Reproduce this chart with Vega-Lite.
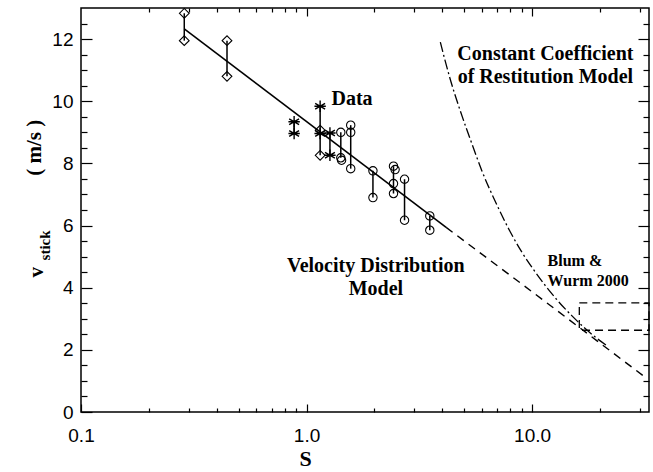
{
  "$schema": "https://vega.github.io/schema/vega-lite/v6.json",
  "width": 568,
  "height": 404,
  "padding": {"left": 81, "top": 8, "right": 4, "bottom": 60},
  "autosize": {"type": "none"},
  "background": "white",
  "config": {
    "view": {"stroke": "black", "strokeWidth": 1.5},
    "axis": {"grid": false, "domain": false, "tickColor": "black", "tickWidth": 1.2, "labelFont": "Liberation Sans", "labelFontSize": 19, "labelColor": "black", "labelFlush": false}
  },
  "datasets": {
    "model": [
      {"S": 0.287, "v": 12.33, "part": "solid"},
      {"S": 4.16, "v": 5.94, "part": "solid"},
      {"S": 4.16, "v": 5.94, "part": "dashed"},
      {"S": 10, "v": 3.87, "part": "dashed"},
      {"S": 32, "v": 1.1, "part": "dashed"}
    ],
    "curve": [
      {"S": 3.92, "v": 11.9}, {"S": 4.3, "v": 10.8}, {"S": 4.8, "v": 9.7},
      {"S": 5.4, "v": 8.65}, {"S": 6.0, "v": 7.75}, {"S": 7.0, "v": 6.65},
      {"S": 8.0, "v": 5.8}, {"S": 9.0, "v": 5.15}, {"S": 10, "v": 4.65},
      {"S": 11.5, "v": 4.05}, {"S": 13, "v": 3.58}, {"S": 15, "v": 3.1},
      {"S": 17, "v": 2.72}, {"S": 19, "v": 2.42}, {"S": 21.3, "v": 2.15}
    ],
    "pairs": [
      {"S": 0.287, "lo": 11.95, "hi": 12.83},
      {"S": 0.444, "lo": 10.8, "hi": 11.95},
      {"S": 0.881, "lo": 8.96, "hi": 9.34},
      {"S": 1.149, "lo": 8.26, "hi": 9.84},
      {"S": 1.27, "lo": 8.26, "hi": 8.98},
      {"S": 1.419, "lo": 8.18, "hi": 9.0},
      {"S": 1.57, "lo": 7.83, "hi": 9.23},
      {"S": 1.97, "lo": 6.9, "hi": 7.76},
      {"S": 2.43, "lo": 7.03, "hi": 7.91},
      {"S": 2.72, "lo": 6.17, "hi": 7.49},
      {"S": 3.52, "lo": 5.85, "hi": 6.31}
    ],
    "points": [
      {"S": 0.287, "v": 12.83, "sym": "diamond"},
      {"S": 0.287, "v": 11.95, "sym": "diamond"},
      {"S": 0.444, "v": 11.95, "sym": "diamond"},
      {"S": 0.444, "v": 10.8, "sym": "diamond"},
      {"S": 1.149, "v": 9.07, "sym": "diamond"},
      {"S": 1.149, "v": 8.26, "sym": "diamond"},
      {"S": 0.881, "v": 9.34, "sym": "star"},
      {"S": 0.881, "v": 8.96, "sym": "star"},
      {"S": 1.149, "v": 9.84, "sym": "star"},
      {"S": 1.149, "v": 8.96, "sym": "star"},
      {"S": 1.27, "v": 8.98, "sym": "star"},
      {"S": 1.27, "v": 8.26, "sym": "star"},
      {"S": 1.419, "v": 9.0, "sym": "circle"},
      {"S": 1.419, "v": 8.18, "sym": "circle"},
      {"S": 1.43, "v": 8.1, "sym": "circle"},
      {"S": 1.57, "v": 9.23, "sym": "circle"},
      {"S": 1.57, "v": 9.0, "sym": "circle"},
      {"S": 1.57, "v": 7.83, "sym": "circle"},
      {"S": 1.97, "v": 7.76, "sym": "circle"},
      {"S": 1.97, "v": 6.9, "sym": "circle"},
      {"S": 2.43, "v": 7.91, "sym": "circle"},
      {"S": 2.47, "v": 7.8, "sym": "circle"},
      {"S": 2.43, "v": 7.35, "sym": "circle"},
      {"S": 2.43, "v": 7.03, "sym": "circle"},
      {"S": 2.72, "v": 7.49, "sym": "circle"},
      {"S": 2.72, "v": 6.17, "sym": "circle"},
      {"S": 3.52, "v": 6.31, "sym": "circle"},
      {"S": 3.52, "v": 5.85, "sym": "circle"}
    ]
  },
  "layer": [
    {
      "data": {"name": "model"},
      "transform": [{"filter": "datum.part === 'solid'"}],
      "mark": {"type": "line", "color": "black", "strokeWidth": 1.6},
      "encoding": {
        "x": {"field": "S", "type": "quantitative",
          "scale": {"type": "log", "domain": [0.1, 33], "nice": false},
          "axis": {"orient": "bottom", "values": [0.1, 1, 10], "format": ".1f", "tickSize": -8, "labelPadding": 22,
            "title": "S", "titleFont": "Liberation Serif", "titleFontWeight": "bold", "titleFontSize": 22, "titleColor": "black",
            "titleX": 224, "titleY": 53, "titleBaseline": "alphabetic", "titleAlign": "center"}},
        "y": {"field": "v", "type": "quantitative",
          "scale": {"domain": [0, 13], "nice": false, "zero": false},
          "axis": {"orient": "left", "values": [0, 2, 4, 6, 8, 10, 12], "tickSize": -11, "labelPadding": 19, "title": null}}
      }
    },
    {
      "data": {"name": "model"},
      "transform": [{"filter": "datum.part === 'dashed'"}],
      "mark": {"type": "line", "color": "black", "strokeWidth": 1.4, "strokeDash": [8, 6]},
      "encoding": {
        "x": {"field": "S", "type": "quantitative",
          "scale": {"type": "log", "domain": [0.1, 33], "nice": false},
          "axis": {"orient": "bottom", "values": [0.2, 0.3, 0.4, 0.5, 0.6, 0.7, 0.8, 0.9, 2, 3, 4, 5, 6, 7, 8, 9, 20, 30], "tickSize": -4, "labels": false, "title": null}},
        "y": {"field": "v", "type": "quantitative",
          "scale": {"domain": [0, 13], "nice": false, "zero": false},
          "axis": {"orient": "left", "values": [0.5, 1, 1.5, 2.5, 3, 3.5, 4.5, 5, 5.5, 6.5, 7, 7.5, 8.5, 9, 9.5, 10.5, 11, 11.5, 12.5], "tickSize": -6, "labels": false, "title": null}}
      }
    },
    {
      "data": {"name": "curve"},
      "mark": {"type": "line", "color": "black", "strokeWidth": 1.3, "strokeDash": [10, 3, 2, 3], "interpolate": "monotone"},
      "encoding": {
        "x": {"field": "S", "type": "quantitative",
          "scale": {"type": "log", "domain": [0.1, 33], "nice": false},
          "axis": {"orient": "top", "values": [1, 10], "tickSize": -8, "labels": false, "title": null}},
        "y": {"field": "v", "type": "quantitative",
          "scale": {"domain": [0, 13], "nice": false, "zero": false},
          "axis": {"orient": "right", "values": [2, 4, 6, 8, 10, 12], "tickSize": -11, "labels": false, "title": null}}
      }
    },
    {
      "data": {"name": "pairs"},
      "mark": {"type": "rule", "color": "black", "strokeWidth": 1.5},
      "encoding": {
        "x": {"field": "S", "type": "quantitative",
          "scale": {"type": "log", "domain": [0.1, 33], "nice": false},
          "axis": {"orient": "top", "values": [0.2, 0.3, 0.4, 0.5, 0.6, 0.7, 0.8, 0.9, 2, 3, 4, 5, 6, 7, 8, 9, 20, 30], "tickSize": -4, "labels": false, "title": null}},
        "y": {"field": "lo", "type": "quantitative",
          "scale": {"domain": [0, 13], "nice": false, "zero": false},
          "axis": {"orient": "right", "values": [0.5, 1, 1.5, 2.5, 3, 3.5, 4.5, 5, 5.5, 6.5, 7, 7.5, 8.5, 9, 9.5, 10.5, 11, 11.5, 12.5], "tickSize": -6, "labels": false, "title": null}},
        "y2": {"field": "hi"}
      }
    },
    {
      "data": {"name": "points"},
      "transform": [{"filter": "datum.sym !== 'star'"}],
      "mark": {"type": "point", "filled": false, "color": "black", "strokeWidth": 1.1, "opacity": 1},
      "encoding": {
        "x": {"field": "S", "type": "quantitative", "scale": {"type": "log", "domain": [0.1, 33], "nice": false}, "axis": null},
        "y": {"field": "v", "type": "quantitative", "scale": {"domain": [0, 13], "nice": false, "zero": false}, "axis": null},
        "shape": {"field": "sym", "type": "nominal",
          "scale": {"domain": ["circle", "diamond"], "range": ["circle", "diamond"]},
          "legend": null},
        "size": {"field": "sym", "type": "nominal",
          "scale": {"domain": ["circle", "diamond"], "range": [70, 95]},
          "legend": null}
      }
    },
    {
      "data": {"name": "points"},
      "transform": [{"filter": "datum.sym === 'star'"}],
      "mark": {"type": "point", "filled": false, "color": "black", "strokeWidth": 1.4, "opacity": 1, "size": 130,
        "shape": "M0,-1L0,1M-0.87,-0.5L0.87,0.5M-0.87,0.5L0.87,-0.5M-1,0L1,0"},
      "encoding": {
        "x": {"field": "S", "type": "quantitative", "scale": {"type": "log", "domain": [0.1, 33], "nice": false}, "axis": null},
        "y": {"field": "v", "type": "quantitative", "scale": {"domain": [0, 13], "nice": false, "zero": false}, "axis": null}
      }
    },
    {
      "data": {"values": [{"S1": 16.2, "S2": 33, "v1": 2.63, "v2": 3.51}]},
      "mark": {"type": "rect", "fill": null, "fillOpacity": 0, "stroke": "black", "strokeWidth": 1.3, "strokeDash": [8, 5]},
      "encoding": {
        "x": {"field": "S1", "type": "quantitative", "scale": {"type": "log", "domain": [0.1, 33], "nice": false}, "axis": null},
        "x2": {"field": "S2"},
        "y": {"field": "v1", "type": "quantitative", "scale": {"domain": [0, 13], "nice": false, "zero": false}, "axis": null},
        "y2": {"field": "v2"}
      }
    },
    {
      "data": {"values": [
        {"S": 11.46, "v": 11.32, "t": "Constant Coefficient"},
        {"S": 11.46, "v": 10.59, "t": "of Restitution Model"},
        {"S": 2.03, "v": 4.5, "t": "Velocity Distribution"},
        {"S": 2.03, "v": 3.75, "t": "Model"}
      ]},
      "mark": {"type": "text", "font": "Liberation Serif", "fontWeight": "bold", "fontSize": 20, "align": "center", "baseline": "alphabetic", "color": "black"},
      "encoding": {
        "x": {"field": "S", "type": "quantitative", "scale": {"type": "log", "domain": [0.1, 33], "nice": false}, "axis": null},
        "y": {"field": "v", "type": "quantitative", "scale": {"domain": [0, 13], "nice": false, "zero": false}, "axis": null},
        "text": {"field": "t"}
      }
    },
    {
      "data": {"values": [{"S": 1.29, "v": 9.87, "t": "Data"}]},
      "mark": {"type": "text", "font": "Liberation Serif", "fontWeight": "bold", "fontSize": 20, "align": "left", "baseline": "alphabetic", "color": "black"},
      "encoding": {
        "x": {"field": "S", "type": "quantitative", "scale": {"type": "log", "domain": [0.1, 33], "nice": false}, "axis": null},
        "y": {"field": "v", "type": "quantitative", "scale": {"domain": [0, 13], "nice": false, "zero": false}, "axis": null},
        "text": {"field": "t"}
      }
    },
    {
      "data": {"values": [
        {"S": 11.72, "v": 4.69, "t": "Blum &"},
        {"S": 11.72, "v": 4.04, "t": "Wurm 2000"}
      ]},
      "mark": {"type": "text", "font": "Liberation Serif", "fontWeight": "bold", "fontSize": 16, "align": "left", "baseline": "alphabetic", "color": "black"},
      "encoding": {
        "x": {"field": "S", "type": "quantitative", "scale": {"type": "log", "domain": [0.1, 33], "nice": false}, "axis": null},
        "y": {"field": "v", "type": "quantitative", "scale": {"domain": [0, 13], "nice": false, "zero": false}, "axis": null},
        "text": {"field": "t"}
      }
    },
    {
      "data": {"values": [
        {"S": 0.0641, "v": 4.5, "t": "v"},
        {"S": 0.0628, "v": 8.5, "t": "( m/s )"}
      ]},
      "mark": {"type": "text", "font": "Liberation Serif", "fontWeight": "bold", "fontSize": 21, "angle": 270, "align": "center", "baseline": "middle", "color": "black"},
      "encoding": {
        "x": {"field": "S", "type": "quantitative", "scale": {"type": "log", "domain": [0.1, 33], "nice": false}, "axis": null},
        "y": {"field": "v", "type": "quantitative", "scale": {"domain": [0, 13], "nice": false, "zero": false}, "axis": null},
        "text": {"field": "t"}
      }
    },
    {
      "data": {"values": [{"S": 0.0695, "v": 5.36, "t": "stick"}]},
      "mark": {"type": "text", "font": "Liberation Serif", "fontWeight": "bold", "fontSize": 15, "angle": 270, "align": "center", "baseline": "middle", "color": "black"},
      "encoding": {
        "x": {"field": "S", "type": "quantitative", "scale": {"type": "log", "domain": [0.1, 33], "nice": false}, "axis": null},
        "y": {"field": "v", "type": "quantitative", "scale": {"domain": [0, 13], "nice": false, "zero": false}, "axis": null},
        "text": {"field": "t"}
      }
    }
  ],
  "resolve": {"axis": {"x": "independent", "y": "independent"}}
}
